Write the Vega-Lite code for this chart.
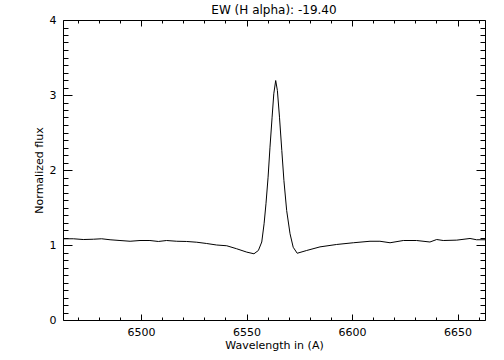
{
  "$schema": "https://vega.github.io/schema/vega-lite/v6.json",
  "autosize": {"type": "none"},
  "padding": {"left": 63, "top": 20, "right": 19, "bottom": 40},
  "width": 422,
  "height": 300,
  "background": "white",
  "title": {"text": "EW (H alpha): -19.40", "font": "DejaVu Sans", "fontSize": 12, "fontWeight": "normal", "color": "black", "anchor": "middle", "offset": -3},
  "config": {"view": {"stroke": null}, "axis": {"labelFont": "DejaVu Sans", "titleFont": "DejaVu Sans", "labelColor": "black", "titleColor": "black", "domainColor": "black", "tickColor": "black", "grid": false, "labelFontSize": 11, "titleFontSize": 11, "titleFontWeight": "normal"}},
  "data": {"values": [
    {"wavelength": 6463.0, "flux": 1.083},
    {"wavelength": 6467.9, "flux": 1.083},
    {"wavelength": 6472.6, "flux": 1.073},
    {"wavelength": 6477.4, "flux": 1.077},
    {"wavelength": 6481.3, "flux": 1.083},
    {"wavelength": 6485.3, "flux": 1.07},
    {"wavelength": 6490.0, "flux": 1.06},
    {"wavelength": 6494.8, "flux": 1.05},
    {"wavelength": 6499.5, "flux": 1.06},
    {"wavelength": 6504.2, "flux": 1.06},
    {"wavelength": 6508.2, "flux": 1.047},
    {"wavelength": 6512.1, "flux": 1.06},
    {"wavelength": 6516.9, "flux": 1.05},
    {"wavelength": 6521.6, "flux": 1.047},
    {"wavelength": 6526.4, "flux": 1.037},
    {"wavelength": 6531.1, "flux": 1.02},
    {"wavelength": 6535.8, "flux": 1.0},
    {"wavelength": 6540.6, "flux": 0.99},
    {"wavelength": 6545.3, "flux": 0.95},
    {"wavelength": 6550.1, "flux": 0.905},
    {"wavelength": 6553.5, "flux": 0.883},
    {"wavelength": 6555.6, "flux": 0.927},
    {"wavelength": 6557.2, "flux": 1.04},
    {"wavelength": 6558.3, "flux": 1.283},
    {"wavelength": 6559.2, "flux": 1.55},
    {"wavelength": 6560.2, "flux": 1.904},
    {"wavelength": 6561.1, "flux": 2.304},
    {"wavelength": 6562.1, "flux": 2.704},
    {"wavelength": 6562.9, "flux": 3.016},
    {"wavelength": 6563.8, "flux": 3.193},
    {"wavelength": 6564.6, "flux": 3.06},
    {"wavelength": 6565.6, "flux": 2.704},
    {"wavelength": 6566.7, "flux": 2.26},
    {"wavelength": 6567.7, "flux": 1.86},
    {"wavelength": 6569.0, "flux": 1.46},
    {"wavelength": 6570.6, "flux": 1.15},
    {"wavelength": 6572.1, "flux": 0.97},
    {"wavelength": 6574.0, "flux": 0.89},
    {"wavelength": 6578.5, "flux": 0.927},
    {"wavelength": 6584.8, "flux": 0.975},
    {"wavelength": 6592.7, "flux": 1.007},
    {"wavelength": 6600.6, "flux": 1.03},
    {"wavelength": 6608.5, "flux": 1.05},
    {"wavelength": 6613.2, "flux": 1.05},
    {"wavelength": 6618.0, "flux": 1.03},
    {"wavelength": 6624.3, "flux": 1.06},
    {"wavelength": 6630.6, "flux": 1.06},
    {"wavelength": 6636.9, "flux": 1.04},
    {"wavelength": 6640.1, "flux": 1.073},
    {"wavelength": 6643.2, "flux": 1.06},
    {"wavelength": 6649.6, "flux": 1.065},
    {"wavelength": 6655.9, "flux": 1.087},
    {"wavelength": 6659.0, "flux": 1.07},
    {"wavelength": 6663.0, "flux": 1.07}
  ]},
  "resolve": {"axis": {"x": "independent", "y": "independent"}},
  "layer": [
    {
      "mark": {"type": "line", "color": "black", "strokeWidth": 1, "interpolate": "linear"},
      "encoding": {
        "x": {"field": "wavelength", "type": "quantitative", "scale": {"domain": [6463, 6663], "nice": false, "zero": false},
          "axis": {"orient": "bottom", "values": [6500, 6550, 6600, 6650], "format": "d", "tickSize": -6, "labelPadding": 12, "title": "Wavelength in (A)", "titlePadding": 2, "domain": true}},
        "y": {"field": "flux", "type": "quantitative", "scale": {"domain": [0, 4], "nice": false, "zero": false},
          "axis": {"orient": "left", "values": [0, 1, 2, 3, 4], "format": "d", "tickSize": -9, "labelPadding": 16, "title": "Normalized flux", "titlePadding": 5, "domain": true}}
      }
    },
    {
      "mark": {"type": "line", "strokeOpacity": 0},
      "encoding": {
        "x": {"field": "wavelength", "type": "quantitative",
          "axis": {"orient": "bottom", "values": [6470, 6480, 6490, 6510, 6520, 6530, 6540, 6560, 6570, 6580, 6590, 6610, 6620, 6630, 6640, 6660], "tickSize": -3, "labels": false, "title": null, "domain": false}},
        "y": {"field": "flux", "type": "quantitative",
          "axis": {"orient": "left", "values": [0.1,0.2,0.3,0.4,0.5,0.6,0.7,0.8,0.9,1.1,1.2,1.3,1.4,1.5,1.6,1.7,1.8,1.9,2.1,2.2,2.3,2.4,2.5,2.6,2.7,2.8,2.9,3.1,3.2,3.3,3.4,3.5,3.6,3.7,3.8,3.9], "tickSize": -5, "labels": false, "title": null, "domain": false}}
      }
    },
    {
      "mark": {"type": "line", "strokeOpacity": 0},
      "encoding": {
        "x": {"field": "wavelength", "type": "quantitative",
          "axis": {"orient": "top", "values": [6500, 6550, 6600, 6650], "tickSize": -6, "labels": false, "title": null, "domain": true}},
        "y": {"field": "flux", "type": "quantitative",
          "axis": {"orient": "right", "values": [0, 1, 2, 3, 4], "tickSize": -9, "labels": false, "title": null, "domain": true}}
      }
    },
    {
      "mark": {"type": "line", "strokeOpacity": 0},
      "encoding": {
        "x": {"field": "wavelength", "type": "quantitative",
          "axis": {"orient": "top", "values": [6470, 6480, 6490, 6510, 6520, 6530, 6540, 6560, 6570, 6580, 6590, 6610, 6620, 6630, 6640, 6660], "tickSize": -3, "labels": false, "title": null, "domain": false}},
        "y": {"field": "flux", "type": "quantitative",
          "axis": {"orient": "right", "values": [0.1,0.2,0.3,0.4,0.5,0.6,0.7,0.8,0.9,1.1,1.2,1.3,1.4,1.5,1.6,1.7,1.8,1.9,2.1,2.2,2.3,2.4,2.5,2.6,2.7,2.8,2.9,3.1,3.2,3.3,3.4,3.5,3.6,3.7,3.8,3.9], "tickSize": -5, "labels": false, "title": null, "domain": false}}
      }
    }
  ]
}
